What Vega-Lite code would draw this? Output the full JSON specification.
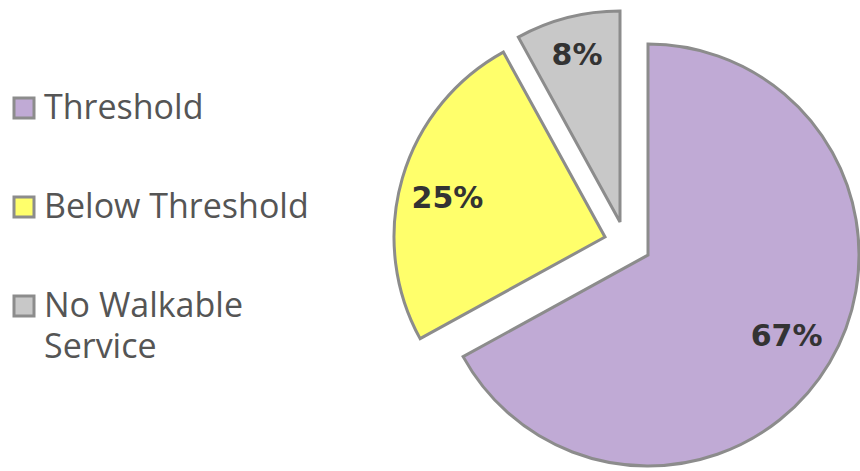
{
  "$schema": "https://vega.github.io/schema/vega-lite/v6.json",
  "width": 424,
  "height": 424,
  "autosize": {"type": "none"},
  "padding": {"left": 436, "top": 43, "right": 0, "bottom": 4},
  "background": "white",
  "config": {
    "view": {"stroke": null},
    "style": {"guide-label": {"dy": 11, "lineHeight": 41}}
  },
  "data": {
    "values": [
      {"category": "Threshold", "share": 0.67},
      {"category": "Below Threshold", "share": 0.25},
      {"category": "No Walkable Service", "share": 0.08}
    ]
  },
  "transform": [{"window": [{"op": "row_number", "as": "rank"}]}],
  "encoding": {
    "theta": {"field": "share", "type": "quantitative", "stack": true, "scale": {"domain": [0, 1]}},
    "order": {"field": "rank", "type": "quantitative", "sort": "ascending"},
    "color": {
      "field": "category",
      "type": "nominal",
      "scale": {
        "domain": ["Threshold", "Below Threshold", "No Walkable Service"],
        "range": ["#c0aad5", "#ffff6b", "#c8c8c8"]
      },
      "legend": {
        "title": null,
        "orient": "none",
        "legendX": -429,
        "legendY": 48,
        "padding": 0,
        "symbolType": "square",
        "symbolSize": 400,
        "symbolStrokeColor": "#8c8c8c",
        "symbolStrokeWidth": 3,
        "symbolOpacity": 1,
        "labelFont": "Open Sans",
        "labelFontSize": 34,
        "labelColor": "#555555",
        "labelOffset": 3,
        "labelLimit": 0,
        "labelBaseline": "alphabetic",
        "rowPadding": 64,
        "labelExpr": "datum.label == 'No Walkable Service' ? ['No Walkable', 'Service'] : datum.label"
      }
    }
  },
  "layer": [
    {
      "mark": {"type": "arc", "radius": 211, "stroke": "#8c8c8c", "strokeWidth": 3, "strokeJoin": "miter"},
      "encoding": {"opacity": {"condition": {"test": "datum.category === 'Threshold'", "value": 1}, "value": 0}}
    },
    {
      "mark": {"type": "arc", "radius": 211, "stroke": "#8c8c8c", "strokeWidth": 3, "strokeJoin": "miter", "xOffset": -43, "yOffset": -18},
      "encoding": {"opacity": {"condition": {"test": "datum.category === 'Below Threshold'", "value": 1}, "value": 0}}
    },
    {
      "mark": {"type": "arc", "radius": 211, "stroke": "#8c8c8c", "strokeWidth": 3, "strokeJoin": "miter", "xOffset": -28, "yOffset": -33},
      "encoding": {"opacity": {"condition": {"test": "datum.category === 'No Walkable Service'", "value": 1}, "value": 0}}
    },
    {
      "mark": {"type": "text", "radius": 161, "font": "DejaVu Sans", "fontWeight": "bold", "fontSize": 30, "baseline": "middle", "align": "center"},
      "encoding": {
        "text": {"field": "share", "type": "quantitative", "format": ".0%"},
        "color": {"value": "#333333"},
        "opacity": {"condition": {"test": "datum.category === 'Threshold'", "value": 1}, "value": 0}
      }
    },
    {
      "mark": {"type": "text", "radius": 162, "font": "DejaVu Sans", "fontWeight": "bold", "fontSize": 30, "baseline": "middle", "align": "center", "xOffset": -45, "yOffset": -11},
      "encoding": {
        "text": {"field": "share", "type": "quantitative", "format": ".0%"},
        "color": {"value": "#333333"},
        "opacity": {"condition": {"test": "datum.category === 'Below Threshold'", "value": 1}, "value": 0}
      }
    },
    {
      "mark": {"type": "text", "radius": 173, "font": "DejaVu Sans", "fontWeight": "bold", "fontSize": 30, "baseline": "middle", "align": "center", "xOffset": -28, "yOffset": -31},
      "encoding": {
        "text": {"field": "share", "type": "quantitative", "format": ".0%"},
        "color": {"value": "#333333"},
        "opacity": {"condition": {"test": "datum.category === 'No Walkable Service'", "value": 1}, "value": 0}
      }
    }
  ]
}
